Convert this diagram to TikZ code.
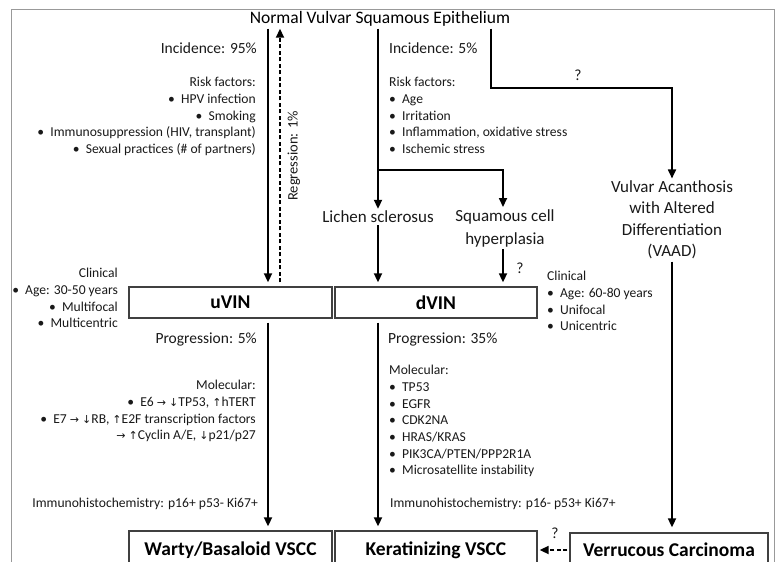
\documentclass[tikz,border=0pt]{standalone}
\usepackage{fontspec}
\setmainfont{Carlito}
\newfontfamily\arrowfont{DejaVu Sans}
\usetikzlibrary{arrows.meta}
\newcommand{\uarr}{{\arrowfont\fontsize{11}{11}\selectfont\char"2191}}
\newcommand{\darr}{{\arrowfont\fontsize{11}{11}\selectfont\char"2193}}
\newcommand{\rarr}{{\arrowfont\fontsize{11}{11}\selectfont\char"2192}}
\tikzset{
    arr/.style={-{Triangle[length=9pt,width=8pt]},line width=1.7pt,black},
    box/.style={draw=black!75,line width=1.3pt,minimum width=203pt,minimum height=31pt,inner sep=0pt,font=\fontsize{19.5}{22}\selectfont\bfseries},
    small/.style={inner sep=0pt,font=\fontsize{13.6}{16.7}\selectfont,text=black!90},
    mid/.style={inner sep=2pt,font=\fontsize{15.5}{22}\selectfont,text=black!90},
    lbl/.style={inner sep=2pt,font=\fontsize{17}{23}\selectfont,text=black!90},
}
\begin{document}
\begin{tikzpicture}[x=1pt,y=-1pt]
    \clip (0,0) rectangle (780,562);
    \draw[black!40,line width=1pt] (11,9) rectangle (774,600);
    \node[inner sep=2pt,font=\fontsize{17.5}{20}\selectfont] (nvse) at (380,19) {Normal Vulvar Squamous Epithelium};
    \node[box] (uvin) at (230.5,302.5) {uVIN};
    \node[box,minimum width=202pt] (dvin) at (436,302.5) {dVIN};
    \node[box,minimum height=38pt] (warty) at (230.5,550) {Warty/Basaloid VSCC};
    \node[box,minimum width=202pt,minimum height=38pt] (kerat) at (436,550) {Keratinizing VSCC};
    \node[box,minimum width=198pt,minimum height=34pt] (verr) at (669,550) {Verrucous Carcinoma};
    \node[lbl] (lichen) at (378,217) {Lichen sclerosus};
    \node[lbl,align=center] (sch) at (505,228) {Squamous cell\\hyperplasia};
    \node[lbl,align=center,font=\fontsize{17}{21.5}\selectfont] (vaad) at (672,220) {Vulvar Acanthosis\\with Altered\\Differentiation\\(VAAD)};
    \coordinate (ua) at (268,0);
    \coordinate (ub) at (280,0);
    \coordinate (sa) at (503,170);
    \coordinate (vb) at (491,88);

    \node[mid,anchor=east] (inc95) at (259,48) {Incidence: 95\%};
    \node[mid,anchor=west] (inc5) at (387,48) {Incidence: 5\%};
    \node[small,align=right,anchor=north east] (riskl) at (256,77) {Risk factors:\\\textbullet\ \ HPV infection\\\textbullet\ \ Smoking\\\textbullet\ \ Immunosuppression (HIV, transplant)\\\textbullet\ \ Sexual practices (\# of partners)};
    \node[small,align=left,anchor=north west] (riskr) at (389,77) {Risk factors:\\\textbullet\ \ Age\\\textbullet\ \ Irritation\\\textbullet\ \ Inflammation, oxidative stress\\\textbullet\ \ Ischemic stress};
    \node[mid,rotate=90,font=\fontsize{14.5}{16}\selectfont] (regr) at (294,156) {Regression: 1\%};
    \node[mid] (q1) at (578,75) {?};
    \node[mid] (q2) at (520,268) {?};
    \node[small,align=right,anchor=north east] (clinl) at (118,268) {Clinical\\\textbullet\ \ Age: 30-50 years\\\textbullet\ \ Multifocal\\\textbullet\ \ Multicentric};
    \node[small,align=left,anchor=north west] (clinr) at (547,271) {Clinical\\\textbullet\ \ Age: 60-80 years\\\textbullet\ \ Unifocal\\\textbullet\ \ Unicentric};
    \node[mid,anchor=east] (prog5) at (259,339) {Progression: 5\%};
    \node[mid,anchor=west] (prog35) at (386,339) {Progression: 35\%};
    \node[small,align=right,anchor=north east] (moll) at (256,380) {Molecular:\\\textbullet\ \ E6 \rarr\ \darr TP53, \uarr hTERT\\\textbullet\ \ E7 \rarr\ \darr RB, \uarr E2F transcription factors\\\rarr\ \uarr Cyclin A/E, \darr p21/p27};
    \node[small,align=left,anchor=north west] (molr) at (389,365) {Molecular:\\\textbullet\ \ TP53\\\textbullet\ \ EGFR\\\textbullet\ \ CDK2NA\\\textbullet\ \ HRAS/KRAS\\\textbullet\ \ PIK3CA/PTEN/PPP2R1A\\\textbullet\ \ Microsatellite instability};
    \node[small,anchor=east] (ihcl) at (258,504) {Immunohistochemistry: p16+ p53- Ki67+};
    \node[small,anchor=west] (ihcr) at (390,504) {Immunohistochemistry: p16- p53+ Ki67+};
    \node[mid] (q3) at (555,533) {?};

    \draw[arr,shorten >=4pt] (ua |- nvse.south) -- (ua |- uvin.north);
    \draw[arr,dashed,dash pattern=on 4pt off 2.5pt,shorten <=4pt] (ub |- uvin.north) -- (ub |- nvse.south);
    \draw[arr] (lichen |- nvse.south) -- (lichen.north);
    \draw[arr] (lichen |- sa) -- (sa) -- (sa |- sch.north);
    \draw[arr] (vb |- nvse.south) -- (vb) -| (vaad.north);
    \draw[arr,shorten >=4pt] (lichen.south) -- (lichen |- dvin.north);
    \draw[arr,shorten >=4pt] (sa |- sch.south) -- (sa |- dvin.north);
    \draw[arr,shorten <=4pt,shorten >=4pt] (ua |- uvin.south) -- (ua |- warty.north);
    \draw[arr,shorten <=4pt,shorten >=4pt] (lichen |- dvin.south) -- (lichen |- kerat.north);
    \draw[arr,shorten >=5pt] (vaad.south) -- (vaad.south |- verr.north);
    \draw[arr,dashed,dash pattern=on 4pt off 2.5pt,shorten <=2pt,shorten >=2pt] (verr.west) -- (verr.west -| kerat.east);
\end{tikzpicture}
\end{document}
